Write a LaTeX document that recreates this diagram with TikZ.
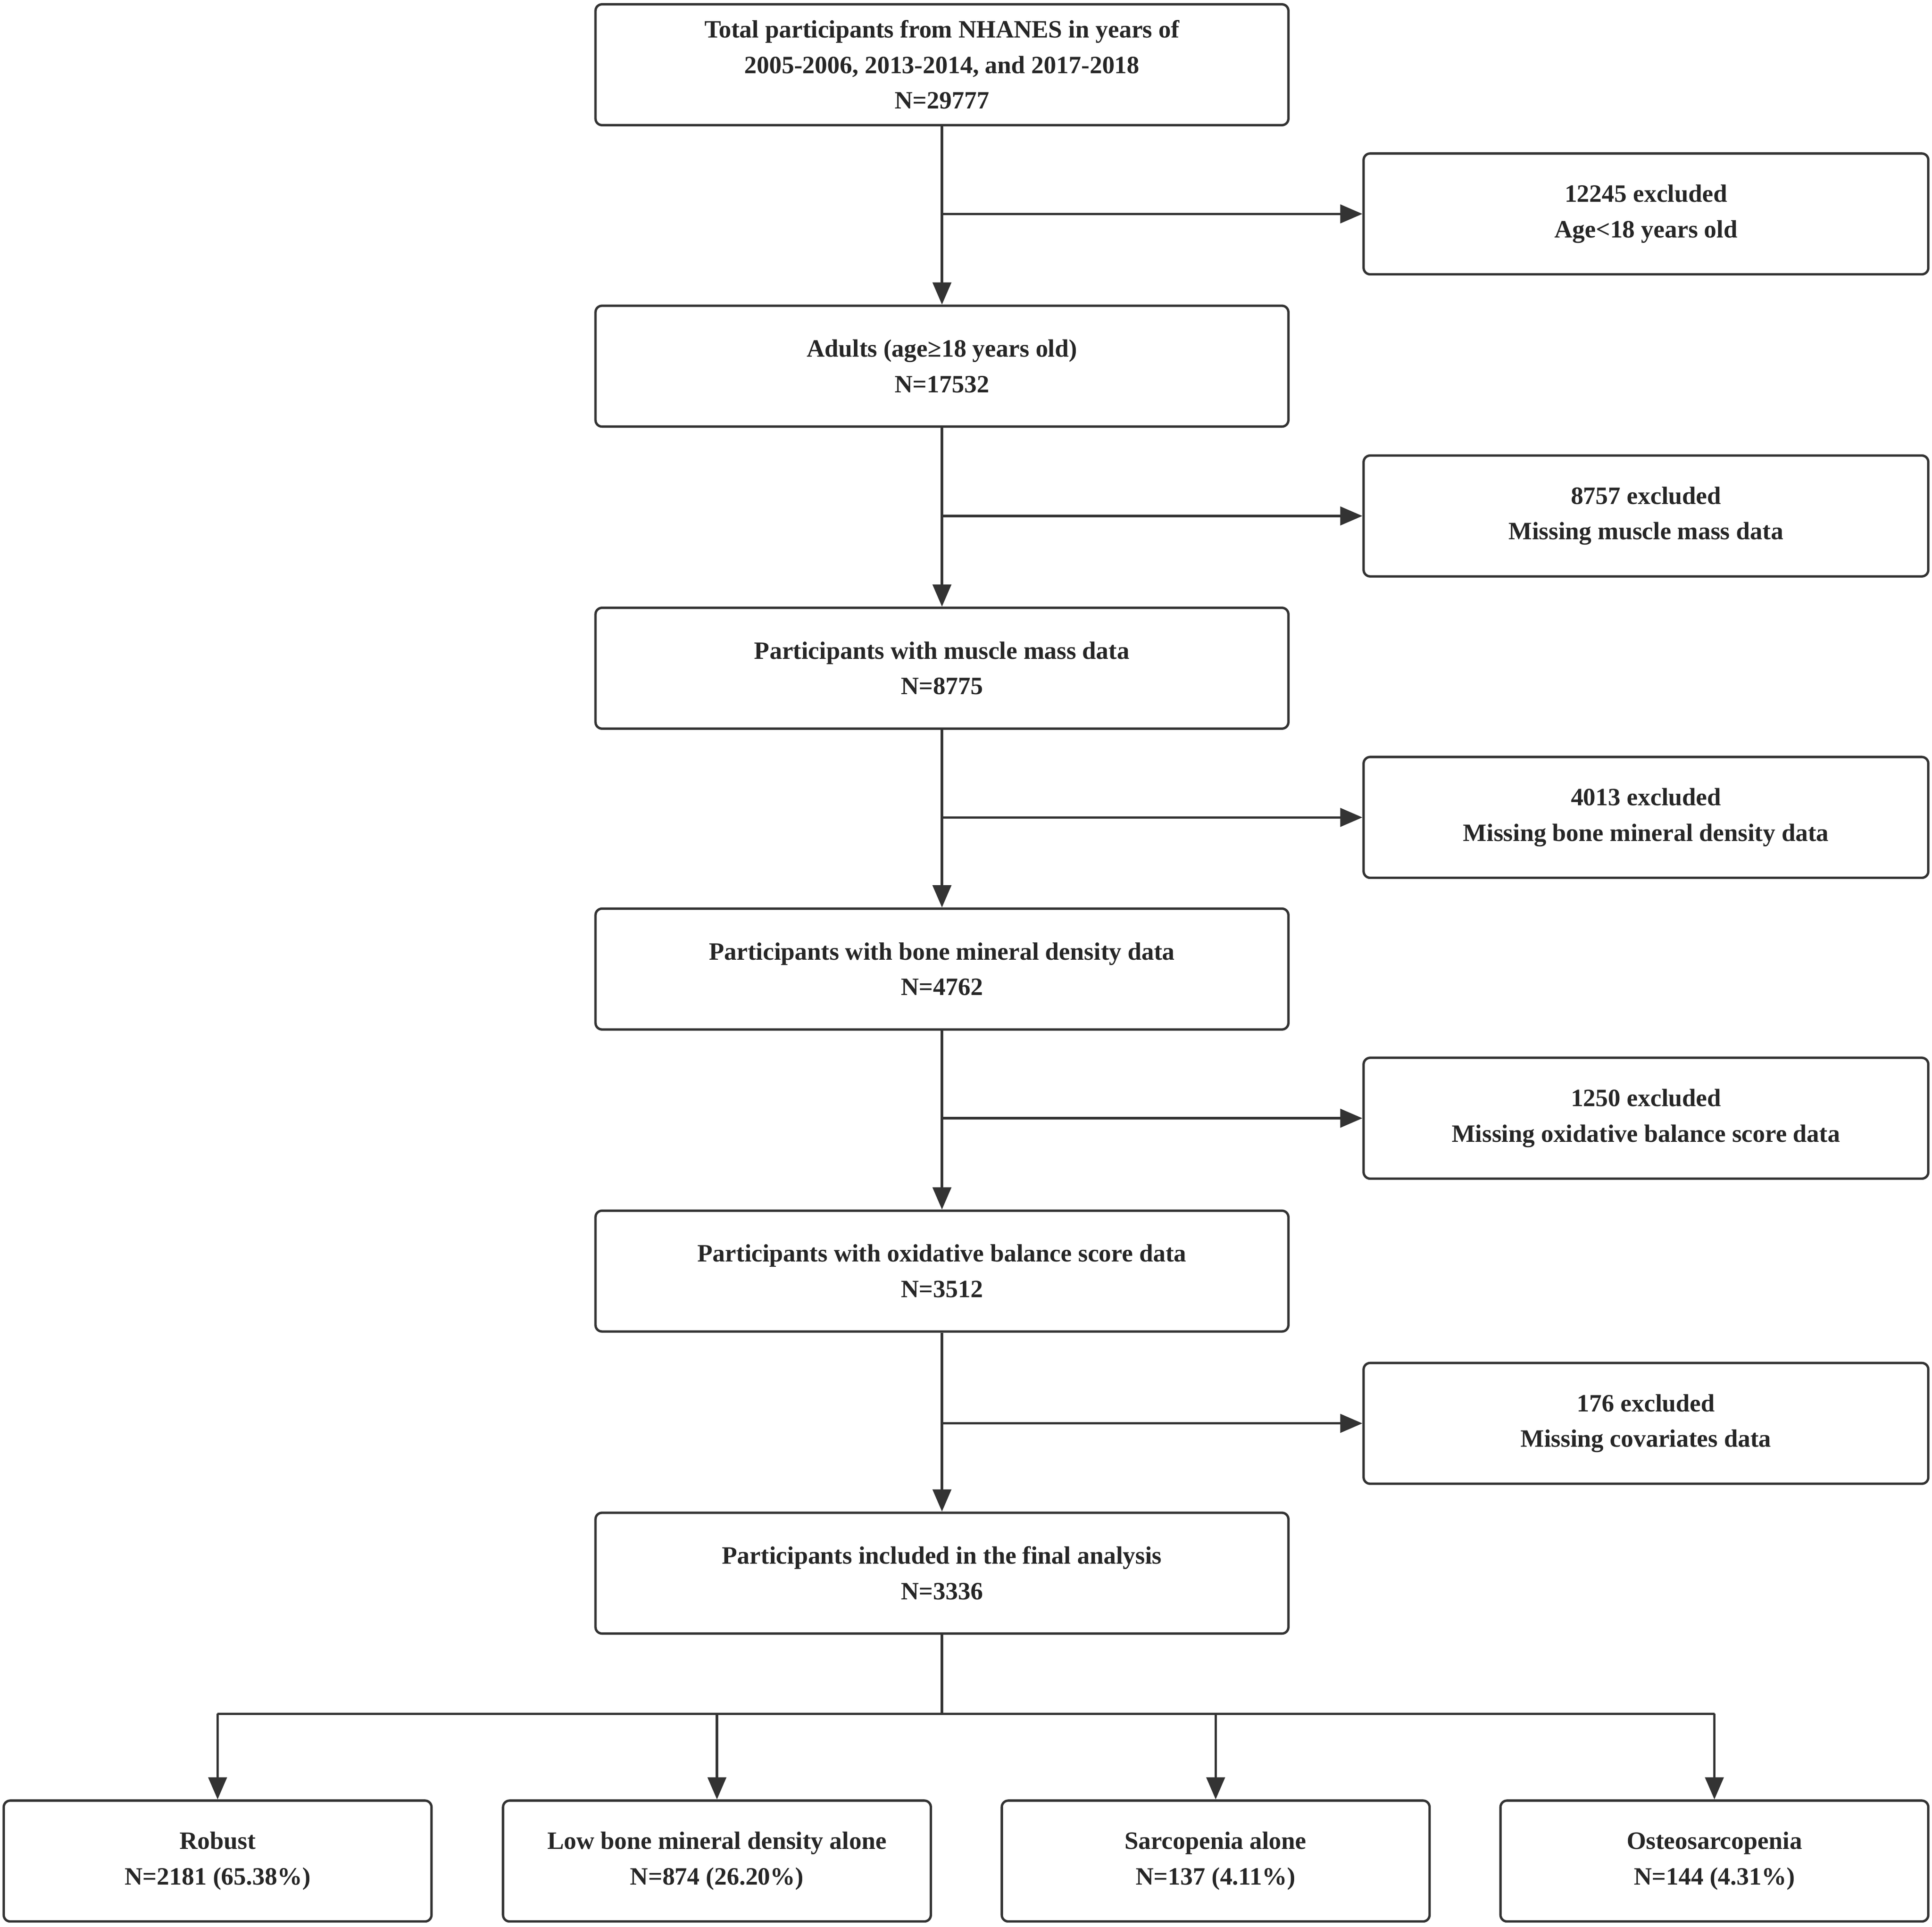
\documentclass[tikz,border=0pt]{standalone}
\usepackage{fontspec}
\setmainfont{Liberation Serif}
\usetikzlibrary{arrows.meta,positioning}
\begin{document}
\begin{tikzpicture}[
    box/.style={draw=black!80, line width=1.1pt, rounded corners=3pt, align=center,
      minimum height=1.96cm, font=\bfseries\fontsize{11.5}{16.4}\selectfont, text=black!85},
    main/.style={box, minimum width=11.24cm},
    side/.style={box, minimum width=9.16cm},
    group/.style={box, minimum width=6.94cm},
    arr/.style={draw=black!80, line width=1.1pt, -{Triangle[length=0.36cm,width=0.3cm]}},
    ln/.style={draw=black!80, line width=1.1pt}
  ]
  \useasboundingbox (0,0) rectangle (31.34,-31.26);

  % Main flow
  \node[main] (M1) at (15.28,-1.05) {Total participants from NHANES in years of\\2005-2006, 2013-2014, and 2017-2018\\N=29777};
  \node[main] (M2) at (15.28,-5.94) {Adults (age≥18 years old)\\N=17532};
  \node[main] (M3) at (15.28,-10.84) {Participants with muscle mass data\\N=8775};
  \node[main] (M4) at (15.28,-15.72) {Participants with bone mineral density data\\N=4762};
  \node[main] (M5) at (15.28,-20.62) {Participants with oxidative balance score data\\N=3512};
  \node[main] (M6) at (15.28,-25.52) {Participants included in the final analysis\\N=3336};

  % Exclusions
  \node[side] (E1) at (26.70,-3.47) {12245 excluded\\Age<18 years old};
  \node[side] (E2) at (26.70,-8.37) {8757 excluded\\Missing muscle mass data};
  \node[side] (E3) at (26.70,-13.26) {4013 excluded\\Missing bone mineral density data};
  \node[side] (E4) at (26.70,-18.14) {1250 excluded\\Missing oxidative balance score data};
  \node[side] (E5) at (26.70,-23.09) {176 excluded\\Missing covariates data};

  % Groups
  \node[group] (G1) at (3.53,-30.19) {Robust\\N=2181 (65.38\%)};
  \node[group] (G2) at (11.63,-30.19) {Low bone mineral density alone\\N=874 (26.20\%)};
  \node[group] (G3) at (19.72,-30.19) {Sarcopenia alone\\N=137 (4.11\%)};
  \node[group] (G4) at (27.81,-30.19) {Osteosarcopenia\\N=144 (4.31\%)};

  % Connections
  \foreach \i/\j in {1/2,2/3,3/4,4/5,5/6}
    \draw[arr] (M\i) -- (M\j);
  \foreach \i in {1,...,5}
    \draw[arr] (E\i.west -| M1.south) -- (E\i.west);

  \coordinate (split) at (15.28,-27.8);
  \draw[ln] (M6.south) -- (split);
  \draw[ln] (G1.north |- split) -- (G4.north |- split);
  \foreach \i in {1,...,4}
    \draw[arr] (G\i.north |- split) -- (G\i.north);
\end{tikzpicture}
\end{document}
